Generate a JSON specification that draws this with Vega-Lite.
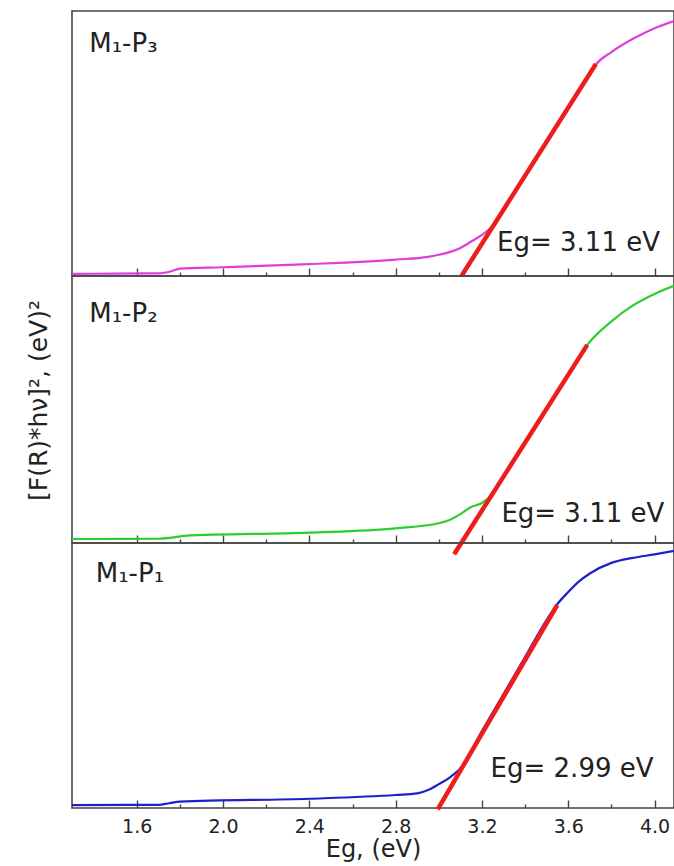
{
  "$schema": "https://vega.github.io/schema/vega-lite/v6.json",
  "padding": {"top": 10, "left": 25, "right": 0, "bottom": 3},
  "spacing": 0,
  "bounds": "flush",
  "background": "white",
  "config": {
    "view": {"stroke": "#444", "strokeWidth": 1.6},
    "font": "DejaVu Sans",
    "axis": {"grid": false, "domain": false, "labelFont": "DejaVu Sans", "titleFont": "DejaVu Sans", "labelColor": "#222", "titleColor": "#222", "titleFontWeight": "normal", "tickColor": "#444", "tickWidth": 1.4}
  },
  "datasets": {
    "curves": [
      {"panel": "P3", "x": 1.30, "y": 0.008}, {"panel": "P3", "x": 1.50, "y": 0.009}, {"panel": "P3", "x": 1.70, "y": 0.010}, {"panel": "P3", "x": 1.76, "y": 0.018}, {"panel": "P3", "x": 1.80, "y": 0.028}, {"panel": "P3", "x": 2.00, "y": 0.033}, {"panel": "P3", "x": 2.40, "y": 0.045}, {"panel": "P3", "x": 2.80, "y": 0.062}, {"panel": "P3", "x": 2.95, "y": 0.072}, {"panel": "P3", "x": 3.00, "y": 0.080}, {"panel": "P3", "x": 3.05, "y": 0.090}, {"panel": "P3", "x": 3.10, "y": 0.106}, {"panel": "P3", "x": 3.15, "y": 0.130}, {"panel": "P3", "x": 3.20, "y": 0.155}, {"panel": "P3", "x": 3.25, "y": 0.190}, {"panel": "P3", "x": 3.30, "y": 0.250}, {"panel": "P3", "x": 3.40, "y": 0.375}, {"panel": "P3", "x": 3.50, "y": 0.505}, {"panel": "P3", "x": 3.60, "y": 0.635}, {"panel": "P3", "x": 3.70, "y": 0.765}, {"panel": "P3", "x": 3.73, "y": 0.800}, {"panel": "P3", "x": 3.80, "y": 0.845}, {"panel": "P3", "x": 3.90, "y": 0.895}, {"panel": "P3", "x": 4.00, "y": 0.935}, {"panel": "P3", "x": 4.09, "y": 0.962},
      {"panel": "P2", "x": 1.30, "y": 0.015}, {"panel": "P2", "x": 1.70, "y": 0.016}, {"panel": "P2", "x": 1.78, "y": 0.022}, {"panel": "P2", "x": 1.82, "y": 0.027}, {"panel": "P2", "x": 2.40, "y": 0.039}, {"panel": "P2", "x": 2.80, "y": 0.055}, {"panel": "P2", "x": 3.00, "y": 0.074}, {"panel": "P2", "x": 3.05, "y": 0.086}, {"panel": "P2", "x": 3.10, "y": 0.108}, {"panel": "P2", "x": 3.15, "y": 0.135}, {"panel": "P2", "x": 3.20, "y": 0.150}, {"panel": "P2", "x": 3.25, "y": 0.185}, {"panel": "P2", "x": 3.30, "y": 0.249}, {"panel": "P2", "x": 3.40, "y": 0.376}, {"panel": "P2", "x": 3.50, "y": 0.503}, {"panel": "P2", "x": 3.60, "y": 0.630}, {"panel": "P2", "x": 3.69, "y": 0.744}, {"panel": "P2", "x": 3.80, "y": 0.830}, {"panel": "P2", "x": 3.90, "y": 0.890}, {"panel": "P2", "x": 4.00, "y": 0.933}, {"panel": "P2", "x": 4.09, "y": 0.963},
      {"panel": "P1", "x": 1.30, "y": 0.011}, {"panel": "P1", "x": 1.70, "y": 0.012}, {"panel": "P1", "x": 1.75, "y": 0.018}, {"panel": "P1", "x": 1.80, "y": 0.024}, {"panel": "P1", "x": 2.40, "y": 0.035}, {"panel": "P1", "x": 2.80, "y": 0.049}, {"panel": "P1", "x": 2.90, "y": 0.055}, {"panel": "P1", "x": 2.95, "y": 0.068}, {"panel": "P1", "x": 3.00, "y": 0.090}, {"panel": "P1", "x": 3.05, "y": 0.115}, {"panel": "P1", "x": 3.10, "y": 0.150}, {"panel": "P1", "x": 3.20, "y": 0.290}, {"panel": "P1", "x": 3.30, "y": 0.430}, {"panel": "P1", "x": 3.40, "y": 0.570}, {"panel": "P1", "x": 3.50, "y": 0.710}, {"panel": "P1", "x": 3.55, "y": 0.770}, {"panel": "P1", "x": 3.60, "y": 0.815}, {"panel": "P1", "x": 3.65, "y": 0.855}, {"panel": "P1", "x": 3.70, "y": 0.885}, {"panel": "P1", "x": 3.80, "y": 0.925}, {"panel": "P1", "x": 3.90, "y": 0.944}, {"panel": "P1", "x": 4.00, "y": 0.957}, {"panel": "P1", "x": 4.09, "y": 0.970}
    ],
    "tangents": [
      {"panel": "P3", "x": 3.105, "y": 0.0}, {"panel": "P3", "x": 3.728, "y": 0.80},
      {"panel": "P2", "x": 3.071, "y": -0.042}, {"panel": "P2", "x": 3.688, "y": 0.742},
      {"panel": "P1", "x": 2.995, "y": -0.005}, {"panel": "P1", "x": 3.549, "y": 0.766}
    ],
    "labels": [
      {"panel": "P3", "x": 1.38, "y": 0.875, "text": "M₁-P₃"},
      {"panel": "P3", "x": 3.27, "y": 0.126, "text": "Eg= 3.11 eV"},
      {"panel": "P2", "x": 1.38, "y": 0.858, "text": "M₁-P₂"},
      {"panel": "P2", "x": 3.29, "y": 0.107, "text": "Eg= 3.11 eV"},
      {"panel": "P1", "x": 1.41, "y": 0.883, "text": "M₁-P₁"},
      {"panel": "P1", "x": 3.24, "y": 0.146, "text": "Eg= 2.99 eV"}
    ]
  },
  "vconcat": [
    {
      "width": 602, "height": 265,
      "layer": [
        {"data": {"name": "curves"}, "transform": [{"filter": "datum.panel == 'P3'"}],
         "mark": {"type": "line", "color": "#dd3fdd", "strokeWidth": 2.2, "interpolate": "monotone"},
         "encoding": {
           "x": {"field": "x", "type": "quantitative", "scale": {"domain": [1.3, 4.09], "nice": false, "zero": false},
                 "axis": {"title": null, "values": [1.6, 1.8, 2.0, 2.2, 2.4, 2.6, 2.8, 3.0, 3.2, 3.4, 3.6, 3.8, 4.0], "labels": false,
                          "tickSize": {"condition": {"test": "round(datum.value*10) % 4 == 0", "value": -8}, "value": -4}}},
           "y": {"field": "y", "type": "quantitative", "scale": {"domain": [0, 1], "nice": false},
                 "axis": {"title": "[F(R)*hν]², (eV)²", "titleOpacity": 0, "labels": false, "ticks": false, "titleFontSize": 25, "titlePadding": 21}}
         }},
        {"data": {"name": "tangents"}, "transform": [{"filter": "datum.panel == 'P3'"}],
         "mark": {"type": "line", "color": "#ee1c1c", "strokeWidth": 4.5},
         "encoding": {"x": {"field": "x", "type": "quantitative"}, "y": {"field": "y", "type": "quantitative"}}},
        {"data": {"name": "labels"}, "transform": [{"filter": "datum.panel == 'P3'"}],
         "mark": {"type": "text", "align": "left", "baseline": "middle", "fontSize": 26, "color": "#222"},
         "encoding": {"x": {"field": "x", "type": "quantitative"}, "y": {"field": "y", "type": "quantitative"}, "text": {"field": "text"}}}
      ]
    },
    {
      "width": 602, "height": 267,
      "layer": [
        {"data": {"name": "curves"}, "transform": [{"filter": "datum.panel == 'P2'"}],
         "mark": {"type": "line", "color": "#2ecc2e", "strokeWidth": 2.2, "interpolate": "monotone"},
         "encoding": {
           "x": {"field": "x", "type": "quantitative", "scale": {"domain": [1.3, 4.09], "nice": false, "zero": false},
                 "axis": {"title": null, "values": [1.6, 1.8, 2.0, 2.2, 2.4, 2.6, 2.8, 3.0, 3.2, 3.4, 3.6, 3.8, 4.0], "labels": false,
                          "tickSize": {"condition": {"test": "round(datum.value*10) % 4 == 0", "value": -8}, "value": -4}}},
           "y": {"field": "y", "type": "quantitative", "scale": {"domain": [0, 1], "nice": false},
                 "axis": {"title": "[F(R)*hν]², (eV)²", "labels": false, "ticks": false, "titleFontSize": 25, "titlePadding": 21, "titleY": 124}}
         }},
        {"data": {"name": "tangents"}, "transform": [{"filter": "datum.panel == 'P2'"}],
         "mark": {"type": "line", "color": "#ee1c1c", "strokeWidth": 4.5},
         "encoding": {"x": {"field": "x", "type": "quantitative"}, "y": {"field": "y", "type": "quantitative"}}},
        {"data": {"name": "labels"}, "transform": [{"filter": "datum.panel == 'P2'"}],
         "mark": {"type": "text", "align": "left", "baseline": "middle", "fontSize": 26, "color": "#222"},
         "encoding": {"x": {"field": "x", "type": "quantitative"}, "y": {"field": "y", "type": "quantitative"}, "text": {"field": "text"}}}
      ]
    },
    {
      "width": 602, "height": 265,
      "layer": [
        {"data": {"name": "curves"}, "transform": [{"filter": "datum.panel == 'P1'"}],
         "mark": {"type": "line", "color": "#1f1fcc", "strokeWidth": 2.2, "interpolate": "monotone"},
         "encoding": {
           "x": {"field": "x", "type": "quantitative", "scale": {"domain": [1.3, 4.09], "nice": false, "zero": false},
                 "axis": {"title": "Eg, (eV)", "titleFontSize": 24, "titlePadding": 1, "labelFontSize": 19, "labelPadding": 17,
                          "values": [1.6, 1.8, 2.0, 2.2, 2.4, 2.6, 2.8, 3.0, 3.2, 3.4, 3.6, 3.8, 4.0],
                          "labelExpr": "round(datum.value*10) % 4 == 0 ? format(datum.value, '.1f') : ''",
                          "tickSize": {"condition": {"test": "round(datum.value*10) % 4 == 0", "value": -8}, "value": -4}}},
           "y": {"field": "y", "type": "quantitative", "scale": {"domain": [0, 1], "nice": false},
                 "axis": {"title": "[F(R)*hν]², (eV)²", "titleOpacity": 0, "labels": false, "ticks": false, "titleFontSize": 25, "titlePadding": 21}}
         }},
        {"data": {"name": "tangents"}, "transform": [{"filter": "datum.panel == 'P1'"}],
         "mark": {"type": "line", "color": "#ee1c1c", "strokeWidth": 4.5},
         "encoding": {"x": {"field": "x", "type": "quantitative"}, "y": {"field": "y", "type": "quantitative"}}},
        {"data": {"name": "labels"}, "transform": [{"filter": "datum.panel == 'P1'"}],
         "mark": {"type": "text", "align": "left", "baseline": "middle", "fontSize": 26, "color": "#222"},
         "encoding": {"x": {"field": "x", "type": "quantitative"}, "y": {"field": "y", "type": "quantitative"}, "text": {"field": "text"}}}
      ]
    }
  ]
}
